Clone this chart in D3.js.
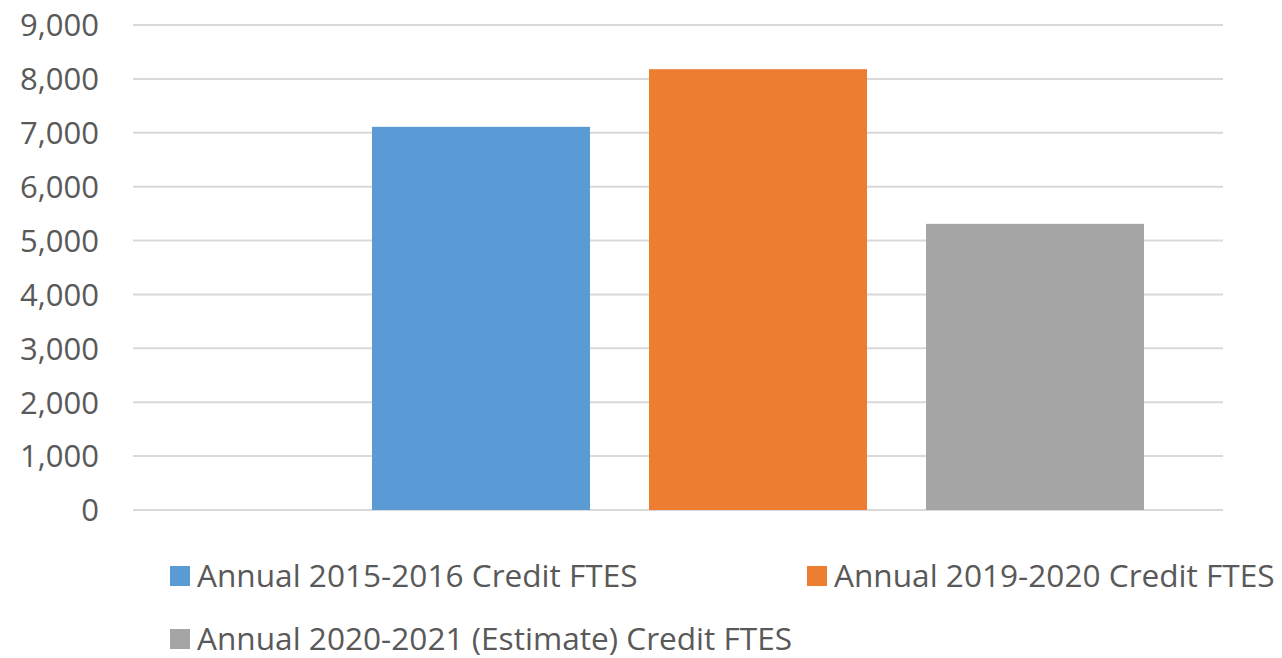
<!DOCTYPE html>
<html>
<head>
<meta charset="utf-8">
<script src="https://cdn.jsdelivr.net/npm/d3@7"></script>
<style>
  html, body { margin: 0; padding: 0; background: #fff; }
  svg { display: block; }
  text { font-family: "Open Sans", "Noto Sans", sans-serif; fill: #595959; }
</style>
</head>
<body>
<svg id="chart" width="1282" height="658"></svg>
<script>
// Credit FTES by year
const seriesNames = [
  "Annual 2015-2016 Credit FTES",
  "Annual 2019-2020 Credit FTES",
  "Annual 2020-2021 (Estimate) Credit FTES"
];
const seriesValues = [7110, 8180, 5310];
const seriesColors = ["#5B9BD5", "#ED7D31", "#A5A5A5"];
const yTicks = [0, 1000, 2000, 3000, 4000, 5000, 6000, 7000, 8000, 9000];

const svg = d3.select("#chart");

const plot = { left: 133, right: 1223, top: 25, bottom: 510 };

const y = d3.scaleLinear().domain([0, 9000]).range([plot.bottom, plot.top]);
const x = d3.scaleBand()
  .domain(seriesNames)
  .range([342.5, 1173.5])
  .paddingInner(0.213)
  .paddingOuter(0.1065);

// gridlines
svg.append("g")
  .selectAll("line")
  .data(yTicks)
  .join("line")
  .attr("x1", plot.left)
  .attr("x2", plot.right)
  .attr("y1", d => y(d))
  .attr("y2", d => y(d))
  .attr("stroke", "#D9D9D9")
  .attr("stroke-width", 2);

// y axis labels
const yAxis = d3.axisLeft(y)
  .tickValues(yTicks)
  .tickFormat(d3.format(","))
  .tickSize(0)
  .tickPadding(0);
const ya = svg.append("g").attr("transform", "translate(99,0)").call(yAxis);
ya.select(".domain").remove();
ya.selectAll("text")
  .attr("font-family", "\"Open Sans\", sans-serif")
  .attr("font-size", 31)
  .attr("fill", "#595959")
  .attr("dy", "0.35em");

// bars
svg.append("g")
  .selectAll("rect")
  .data(seriesNames)
  .join("rect")
  .attr("x", d => x(d))
  .attr("width", x.bandwidth())
  .attr("y", (d, i) => y(seriesValues[i]))
  .attr("height", (d, i) => y(0) - y(seriesValues[i]))
  .attr("fill", (d, i) => seriesColors[i]);

// legend
const legendPos = [[170, 566], [807, 566], [170, 629]];
const lg = svg.append("g")
  .selectAll("g")
  .data(seriesNames)
  .join("g")
  .attr("transform", (d, i) => `translate(${legendPos[i][0]},${legendPos[i][1]})`);
lg.append("rect")
  .attr("width", 20)
  .attr("height", 20)
  .attr("fill", (d, i) => seriesColors[i]);
lg.append("text")
  .attr("x", 27)
  .attr("y", 21)
  .attr("font-size", 31.6)
  .text(d => d);
</script>
</body>
</html>
